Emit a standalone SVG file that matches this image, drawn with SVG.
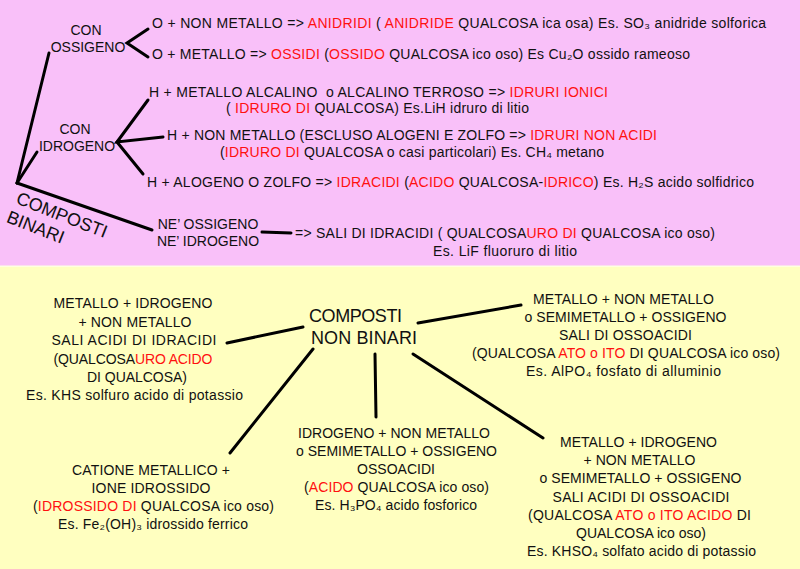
<svg xmlns="http://www.w3.org/2000/svg" width="800" height="569" viewBox="0 0 800 569">
<style>
text{font-family:"Liberation Sans",Arial,sans-serif;font-size:14px;fill:#111;white-space:pre}
.c{text-anchor:middle}
.r{fill:#ff1010}
.big{font-size:18px}
.ln{stroke:#000;stroke-width:3;fill:none;stroke-linecap:round;stroke-linejoin:miter}
</style>
<rect x="0" y="0" width="800" height="266" fill="#f9c0f9"/>
<rect x="0" y="266" width="800" height="303" fill="#ffffc0"/>
<rect x="0" y="265.5" width="800" height="1.5" fill="#ffffe0"/>

<g id="connectors" class="ln">
<path d="M17,183 L49,53"/>
<path d="M17,183 L37,152"/>
<path d="M17,183 L152,230"/>
<path d="M148,29 L127,43 L148,57"/>
<path d="M148,100 L117,142 L163,137"/>
<path d="M117,142 L143,174"/>
<path d="M262,232 L291,233"/>
<path d="M227,343 L303,327"/>
<path d="M418,323 L521,305"/>
<path d="M313,349 L230,453"/>
<path d="M375,354 L376,417"/>
<path d="M413,354 L543,438"/>
</g>

<g id="composti-binari">
<text class="big" transform="translate(15,203) rotate(21.5)"><tspan x="0" y="0">COMPOSTI</tspan><tspan x="-2" y="21">BINARI</tspan></text>
</g>
<g id="con-ossigeno">
<text class="c" x="86" y="35">CON</text>
<text class="c" x="88" y="52">OSSIGENO</text>
</g>
<g id="con-idrogeno">
<text class="c" x="75" y="134">CON</text>
<text class="c" x="77" y="151">IDROGENO</text>
</g>
<g id="ne-ne">
<text class="c" x="208" y="229">NE’ OSSIGENO</text>
<text class="c" x="208" y="246">NE’ IDROGENO</text>
</g>
<g id="anidridi">
<text x="152" y="28" textLength="614">O + NON METALLO =&gt; <tspan class="r">ANIDRIDI</tspan> ( <tspan class="r">ANIDRIDE</tspan> QUALCOSA ica osa) Es. SO₃ anidride solforica</text>
</g>
<g id="ossidi">
<text x="152" y="59" textLength="538">O + METALLO =&gt; <tspan class="r">OSSIDI</tspan> (<tspan class="r">OSSIDO</tspan> QUALCOSA ico oso) Es Cu₂O ossido rameoso</text>
</g>
<g id="idruri-ionici">
<text x="149" y="97" textLength="459">H + METALLO ALCALINO  o ALCALINO TERROSO =&gt; <tspan class="r">IDRURI IONICI</tspan></text>
<text x="226" y="113" textLength="303">( <tspan class="r">IDRURO DI</tspan> QUALCOSA) Es.LiH idruro di litio</text>
</g>
<g id="idruri-non-acidi">
<text x="167" y="140" textLength="490">H + NON METALLO (ESCLUSO ALOGENI E ZOLFO =&gt; <tspan class="r">IDRURI NON ACIDI</tspan></text>
<text x="220" y="157" textLength="384">(<tspan class="r">IDRURO DI</tspan> QUALCOSA o casi particolari) Es. CH₄ metano</text>
</g>
<g id="idracidi">
<text x="147" y="187" textLength="607">H + ALOGENO O ZOLFO =&gt; <tspan class="r">IDRACIDI</tspan> (<tspan class="r">ACIDO</tspan> QUALCOSA-<tspan class="r">IDRICO</tspan>) Es. H₂S acido solfidrico</text>
</g>
<g id="sali-idracidi">
<text x="295" y="238" textLength="420">=&gt; SALI DI IDRACIDI ( QUALCOSA<tspan class="r">URO DI</tspan> QUALCOSA ico oso)</text>
<text x="433" y="256" textLength="144">Es. LiF fluoruro di litio</text>
</g>

<g id="composti-non-binari">
<text class="big" x="309" y="322" textLength="93">COMPOSTI</text>
<text class="big" x="311" y="344" textLength="106">NON BINARI</text>
</g>
<g id="sali-acidi-idracidi">
<text class="c" x="133" y="308" textLength="159">METALLO + IDROGENO</text>
<text class="c" x="135" y="326.5" textLength="113">+ NON METALLO</text>
<text class="c" x="134" y="345" textLength="165">SALI ACIDI DI IDRACIDI</text>
<text class="c" x="133" y="363.5" textLength="159">(QUALCOSA<tspan class="r">URO ACIDO</tspan></text>
<text class="c" x="137" y="382" textLength="100">DI QUALCOSA)</text>
<text class="c" x="134.5" y="400" textLength="217">Es. KHS solfuro acido di potassio</text>
</g>
<g id="sali-ossoacidi">
<text class="c" x="623.5" y="304" textLength="181">METALLO + NON METALLO</text>
<text class="c" x="625.5" y="322" textLength="202">o SEMIMETALLO + OSSIGENO</text>
<text class="c" x="625.5" y="340" textLength="133">SALI DI OSSOACIDI</text>
<text class="c" x="626" y="358" textLength="308">(QUALCOSA <tspan class="r">ATO o ITO</tspan> DI QUALCOSA ico oso)</text>
<text class="c" x="623.5" y="376" textLength="195">Es. AlPO₄ fosfato di alluminio</text>
</g>
<g id="idrossidi">
<text class="c" x="151" y="475" textLength="158">CATIONE METALLICO +</text>
<text class="c" x="151" y="493" textLength="119">IONE IDROSSIDO</text>
<text class="c" x="153.5" y="511" textLength="241">(<tspan class="r">IDROSSIDO DI</tspan> QUALCOSA ico oso)</text>
<text class="c" x="153" y="529" textLength="190">Es. Fe₂(OH)₃ idrossido ferrico</text>
</g>
<g id="ossoacidi">
<text class="c" x="394" y="438" textLength="192">IDROGENO + NON METALLO</text>
<text class="c" x="396.5" y="456" textLength="201">o SEMIMETALLO + OSSIGENO</text>
<text class="c" x="396" y="474">OSSOACIDI</text>
<text class="c" x="396.5" y="492" textLength="185">(<tspan class="r">ACIDO</tspan> QUALCOSA ico oso)</text>
<text class="c" x="396" y="510" textLength="162">Es. H₃PO₄ acido fosforico</text>
</g>
<g id="sali-acidi-ossoacidi">
<text class="c" x="638.5" y="447" textLength="157">METALLO + IDROGENO</text>
<text class="c" x="639.5" y="465" textLength="112">+ NON METALLO</text>
<text class="c" x="640.5" y="483" textLength="202">o SEMIMETALLO + OSSIGENO</text>
<text class="c" x="641" y="502" textLength="177">SALI ACIDI DI OSSOACIDI</text>
<text class="c" x="639.5" y="520" textLength="223">(QUALCOSA <tspan class="r">ATO o ITO ACIDO</tspan> DI</text>
<text class="c" x="641" y="538" textLength="130">QUALCOSA ico oso)</text>
<text class="c" x="641.5" y="556" textLength="229">Es. KHSO₄ solfato acido di potassio</text>
</g>
</svg>
